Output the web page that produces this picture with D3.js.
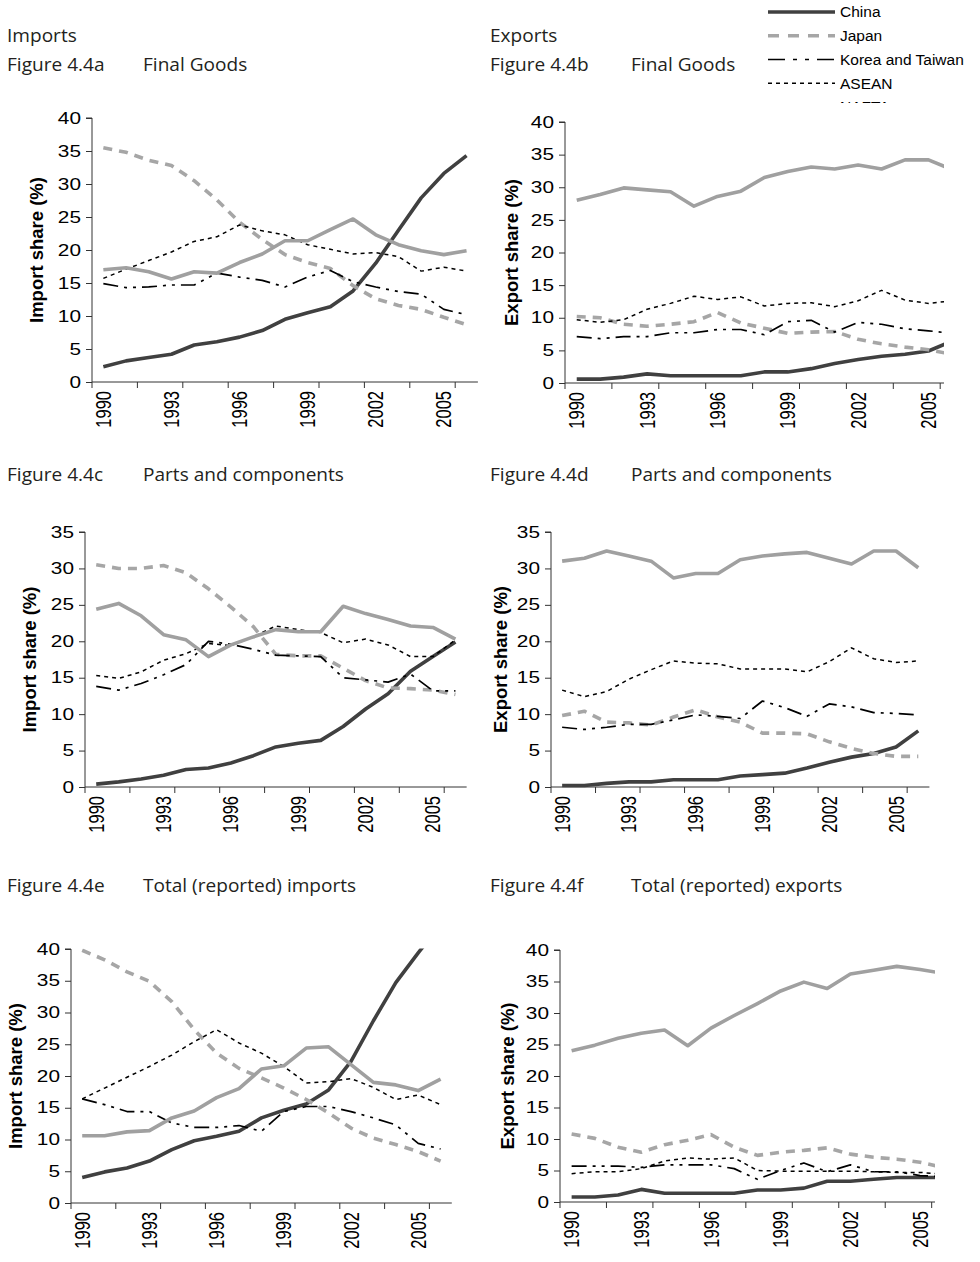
<!DOCTYPE html>
<html>
<head>
<meta charset="utf-8">
<script src="https://cdn.jsdelivr.net/npm/d3@7"></script>
<style>
  body { margin: 0; background: #fff; }
  svg { display: block; }
</style>
</head>
<body>
<svg id="fig" width="980" height="1262"></svg>
<script>
// ---- Categories and tick labels ----
const years = ["1990","1991","1992","1993","1994","1995","1996","1997","1998",
               "1999","2000","2001","2002","2003","2004","2005","2006"];
const yearLabels = ["1990","1993","1996","1999","2002","2005"];
const seriesNames = ["China","Japan","Korea and Taiwan","ASEAN","NAFTA"];

// ---- Figure 4.4a: imports, final goods (share %) ----
const chinaA = [2.3,3.2,3.7,4.2,5.6,6.1,6.8,7.8,9.5,10.5,11.4,13.8,18.0,23.0,27.9,31.6,34.3];
const japanA = [35.5,34.8,33.6,32.8,30.5,27.6,24.2,21.6,19.3,18.1,17.2,14.6,12.6,11.6,11.0,9.8,8.7];
const koreaA = [14.9,14.3,14.4,14.7,14.7,16.5,15.9,15.4,14.4,15.9,16.9,15.2,14.4,13.7,13.3,11.0,10.2];
const aseanA = [15.7,17.1,18.4,19.7,21.3,22.0,23.8,22.9,22.3,20.8,20.1,19.4,19.6,19.0,16.8,17.4,16.8];
const naftaA = [17.0,17.3,16.7,15.6,16.7,16.5,18.1,19.4,21.4,21.4,23.1,24.7,22.3,20.8,19.9,19.3,19.9];

// ---- Figure 4.4b: exports, final goods ----
const chinaB = [0.6,0.6,0.9,1.4,1.1,1.1,1.1,1.1,1.7,1.7,2.2,3.0,3.6,4.1,4.4,4.9,6.4];
const japanB = [10.2,10.0,9.0,8.7,9.0,9.4,10.8,9.2,8.4,7.6,7.8,7.9,6.7,6.0,5.5,5.1,4.4];
const koreaB = [7.1,6.8,7.1,7.1,7.7,7.7,8.2,8.2,7.4,9.4,9.6,7.8,9.3,9.0,8.3,8.0,7.6];
const aseanB = [9.7,9.3,9.7,11.3,12.2,13.3,12.8,13.2,11.8,12.2,12.3,11.7,12.6,14.2,12.7,12.2,12.6];
const naftaB = [28.0,28.9,29.9,29.6,29.3,27.1,28.6,29.4,31.5,32.4,33.1,32.8,33.4,32.8,34.2,34.2,32.7];

// ---- Figure 4.4c: imports, parts and components ----
const chinaC = [0.4,0.7,1.1,1.6,2.4,2.6,3.3,4.3,5.5,6.0,6.4,8.3,10.7,12.8,15.9,17.9,19.9];
const japanC = [30.5,30.0,30.0,30.4,29.4,27.2,24.7,22.0,18.2,18.0,18.0,16.3,14.6,13.6,13.5,13.3,12.7];
const koreaC = [13.8,13.3,14.2,15.4,16.8,20.0,19.6,18.9,18.1,18.0,17.9,15.0,14.7,14.4,15.5,13.2,13.2];
const aseanC = [15.3,14.9,15.8,17.4,18.3,19.7,19.4,20.6,22.1,21.6,21.2,19.8,20.3,19.5,17.9,17.9,20.2];
const naftaC = [24.4,25.2,23.5,20.9,20.2,17.9,19.5,20.6,21.6,21.3,21.3,24.8,23.8,23.0,22.1,21.9,20.3];

// ---- Figure 4.4d: exports, parts and components ----
const chinaD = [0.2,0.2,0.5,0.7,0.7,1.0,1.0,1.0,1.5,1.7,1.9,2.6,3.4,4.1,4.6,5.5,7.7];
const japanD = [9.8,10.4,8.9,8.8,8.5,9.6,10.6,9.6,8.9,7.4,7.4,7.3,6.2,5.3,4.6,4.2,4.2];
const koreaD = [8.2,7.9,8.2,8.6,8.6,9.2,9.9,9.7,9.4,11.8,10.9,9.7,11.4,11.0,10.2,10.1,9.9];
const aseanD = [13.3,12.4,13.1,14.8,16.1,17.3,17.0,16.9,16.2,16.2,16.2,15.8,17.2,19.1,17.6,17.1,17.3];
const naftaD = [31.0,31.4,32.4,31.7,31.0,28.7,29.3,29.3,31.2,31.7,32.0,32.2,31.4,30.6,32.4,32.4,30.1];

// ---- Figure 4.4e: total (reported) imports ----
const chinaE = [4.0,4.9,5.5,6.6,8.4,9.8,10.5,11.3,13.4,14.6,15.6,17.8,22.3,28.7,34.7,39.4,43.8];
const japanE = [39.8,38.3,36.4,34.9,31.7,27.3,23.6,21.2,19.7,18.1,16.3,14.2,11.8,10.2,9.2,8.1,6.6];
const koreaE = [16.4,15.5,14.4,14.4,12.6,11.9,11.9,12.2,11.3,14.4,15.2,15.2,14.4,13.4,12.3,9.4,8.5];
const aseanE = [16.4,18.1,19.8,21.5,23.3,25.4,27.3,25.2,23.6,21.5,18.9,19.1,19.6,18.2,16.3,17.0,15.5];
const naftaE = [10.6,10.6,11.2,11.4,13.4,14.5,16.6,18.0,21.1,21.6,24.4,24.6,21.8,19.0,18.6,17.7,19.5];

// ---- Figure 4.4f: total (reported) exports ----
const chinaF = [0.8,0.8,1.1,2.0,1.4,1.4,1.4,1.4,1.9,1.9,2.2,3.3,3.3,3.6,3.9,3.9,3.9];
const japanF = [10.8,10.1,8.7,7.9,9.1,9.8,10.7,8.7,7.4,7.9,8.2,8.6,7.6,7.1,6.8,6.3,5.5];
const koreaF = [5.7,5.7,5.7,5.5,5.9,5.9,5.9,5.3,3.6,5.0,6.2,4.8,5.9,4.8,4.8,4.2,4.0];
const aseanF = [4.5,4.8,4.8,5.3,6.5,7.0,6.8,7.0,5.0,4.9,4.9,4.9,4.9,4.8,4.7,4.7,4.4];
const naftaF = [24.0,24.9,26.0,26.8,27.3,24.8,27.6,29.6,31.5,33.5,34.9,33.9,36.2,36.8,37.4,36.9,36.3];

// ---- Line styles per region ----
const lineStyle = {
  "China":            { color: "#404040", width: 3.6, dash: null },
  "Japan":            { color: "#a6a6a6", width: 3.6, dash: "9,7" },
  "Korea and Taiwan": { color: "#000000", width: 1.7, dash: "15,6,3,6,3,6" },
  "ASEAN":            { color: "#000000", width: 1.5, dash: "4,4" },
  "NAFTA":            { color: "#a0a0a0", width: 3.6, dash: null }
};

const AXIS_FONT = "'Liberation Sans', Arial, sans-serif";
const TITLE_FONT = "'Open Sans', 'Noto Sans', sans-serif";
const TICK_STRETCH = 1.3;   // tick labels are set slightly wide

// Panel frames: plot origin, category step, value range, clipping and labels
const panels = [
  { key: "a", ox: 92,  step: 22.7,  y0: 382,  yTop: 118, max: 40, clipR: null, titleX: 36,  yTitle: "Import share (%)",
    series: [chinaA, japanA, koreaA, aseanA, naftaA] },
  { key: "b", ox: 565, step: 23.45, y0: 383,  yTop: 122, max: 40, clipR: 944,  titleX: 511, yTitle: "Export share (%)",
    series: [chinaB, japanB, koreaB, aseanB, naftaB] },
  { key: "c", ox: 85,  step: 22.45, y0: 787,  yTop: 532, max: 35, clipR: null, titleX: 29,  yTitle: "Import share (%)",
    series: [chinaC, japanC, koreaC, aseanC, naftaC] },
  { key: "d", ox: 551, step: 22.26, y0: 787,  yTop: 532, max: 35, clipR: null, titleX: 500, yTitle: "Export share (%)",
    series: [chinaD, japanD, koreaD, aseanD, naftaD] },
  { key: "e", ox: 71,  step: 22.4,  y0: 1203, yTop: 949, max: 40, clipR: null, titleX: 15,  yTitle: "Import share (%)",
    series: [chinaE, japanE, koreaE, aseanE, naftaE] },
  { key: "f", ox: 560, step: 23.23, y0: 1202, yTop: 950, max: 40, clipR: 935,  titleX: 507, yTitle: "Export share (%)",
    series: [chinaF, japanF, koreaF, aseanF, naftaF] }
];

const svg = d3.select("#fig");
const defs = svg.append("defs");

// ---- Headings ----
const headings = [
  { x: 7,   y: 42,  t: "Imports" },
  { x: 7,   y: 71,  t: "Figure 4.4a" }, { x: 143, y: 71,  t: "Final Goods" },
  { x: 490, y: 42,  t: "Exports" },
  { x: 490, y: 71,  t: "Figure 4.4b" }, { x: 631, y: 71,  t: "Final Goods" },
  { x: 7,   y: 481, t: "Figure 4.4c" }, { x: 143, y: 481, t: "Parts and components" },
  { x: 490, y: 481, t: "Figure 4.4d" }, { x: 631, y: 481, t: "Parts and components" },
  { x: 7,   y: 892, t: "Figure 4.4e" }, { x: 143, y: 892, t: "Total (reported) imports" },
  { x: 490, y: 892, t: "Figure 4.4f" }, { x: 631, y: 892, t: "Total (reported) exports" }
];
svg.append("g").selectAll("text").data(headings).join("text")
  .attr("transform", d => `translate(${d.x},${d.y}) scale(1.06,1)`)
  .attr("font-family", TITLE_FONT).attr("font-size", 18)
  .attr("fill", "#231f20")
  .text(d => d.t);

// ---- Panels ----
panels.forEach(p => {
  const x = d3.scaleBand().domain(years).range([p.ox, p.ox + years.length * p.step]).padding(0);
  const y = d3.scaleLinear().domain([0, p.max]).range([p.y0, p.yTop]);
  const xEnd = p.clipR ? Math.min(x.range()[1], p.clipR) : x.range()[1];
  const cx = d => x(d) + x.bandwidth() / 2;

  const g = svg.append("g").attr("class", "panel-" + p.key);

  // plot-area clip
  const clipId = "clip-" + p.key;
  defs.append("clipPath").attr("id", clipId).append("rect")
    .attr("x", p.ox).attr("y", y(p.max) - 0.5)
    .attr("width", xEnd - p.ox).attr("height", p.y0 - y(p.max) + 4);

  // value axis
  const yAxis = d3.axisLeft(y).tickValues(d3.range(0, p.max + 1, 5))
    .tickSize(6).tickPadding(4).tickFormat(d3.format("d"));
  const ya = g.append("g").attr("transform", `translate(${p.ox},0)`).call(yAxis);
  ya.select(".domain").attr("stroke", "#333").attr("d", `M-6,${y(p.max)}H0V${p.y0}`);
  ya.selectAll(".tick line").attr("stroke", "#333");
  ya.selectAll(".tick text")
    .attr("x", -11 / TICK_STRETCH)
    .attr("transform", `scale(${TICK_STRETCH},1)`)
    .attr("font-family", AXIS_FONT).attr("font-size", 16).attr("fill", "#000");

  // category axis: tick marks every second category boundary
  const bounds = years.filter((d, i) => i % 2 === 0);
  const xa = g.append("g");
  xa.append("line").attr("x1", p.ox).attr("x2", xEnd).attr("y1", p.y0).attr("y2", p.y0)
    .attr("stroke", "#333");
  xa.selectAll("line.tk").data(bounds).join("line").attr("class", "tk")
    .attr("x1", d => x(d)).attr("x2", d => x(d))
    .attr("y1", p.y0).attr("y2", p.y0 + 6).attr("stroke", "#333");
  xa.selectAll("text").data(yearLabels).join("text")
    .attr("transform", d => `translate(${cx(d)},${p.y0 + 9}) scale(${TICK_STRETCH},1) rotate(-90)`)
    .attr("text-anchor", "end").attr("dy", "0.35em")
    .attr("font-family", AXIS_FONT).attr("font-size", 16.5).attr("fill", "#000")
    .text(d => d);

  // value axis title
  g.append("text")
    .attr("transform", `translate(${p.titleX},${(p.y0 + p.yTop) / 2}) rotate(-90)`)
    .attr("text-anchor", "middle").attr("dominant-baseline", "central")
    .attr("font-family", AXIS_FONT).attr("font-weight", "bold").attr("font-size", 18.5)
    .attr("fill", "#000")
    .text(p.yTitle);

  // series lines
  const line = d3.line().x((d, i) => cx(years[i])).y(d => y(d));
  const lg = g.append("g").attr("clip-path", `url(#${clipId})`);
  seriesNames.forEach((name, si) => {
    const s = lineStyle[name];
    lg.append("path").datum(p.series[si])
      .attr("d", line)
      .attr("fill", "none")
      .attr("stroke", s.color)
      .attr("stroke-width", s.width)
      .attr("stroke-linejoin", "round")
      .attr("stroke-dasharray", s.dash);
  });
});

// ---- Legend (box cuts off below the fourth entry) ----
defs.append("clipPath").attr("id", "clip-legend").append("rect")
  .attr("x", 740).attr("y", 0).attr("width", 240).attr("height", 103);
const legend = svg.append("g").attr("clip-path", "url(#clip-legend)");
const legendRow = d3.scalePoint().domain(seriesNames).range([12, 107]);
seriesNames.forEach(name => {
  const s = lineStyle[name];
  const yy = legendRow(name);
  legend.append("line")
    .attr("x1", 768).attr("x2", 835).attr("y1", yy).attr("y2", yy)
    .attr("stroke", s.color).attr("stroke-width", s.width)
    .attr("stroke-dasharray", name === "Japan" ? "11,9" : (name === "Korea and Taiwan" ? "17,8,4,8,4,8" : s.dash));
  legend.append("text")
    .attr("x", 840).attr("y", yy).attr("dy", "0.35em")
    .attr("font-family", AXIS_FONT).attr("font-size", 15.5).attr("fill", "#000")
    .text(name);
});
</script>
</body>
</html>
